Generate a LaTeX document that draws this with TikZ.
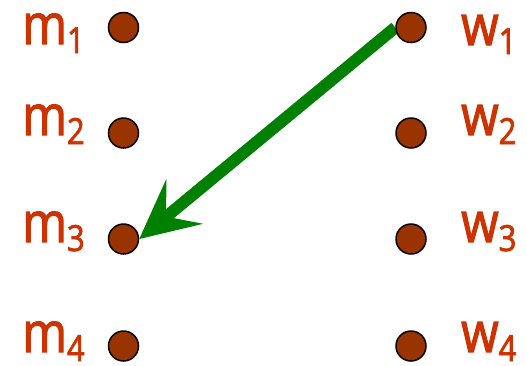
\documentclass[tikz,border=0pt]{standalone}
\usepackage{fontspec}
\newfontfamily\labfont[FakeStretch=0.86,FakeBold=2]{Open Sans}
\usetikzlibrary{arrows.meta,backgrounds}
\definecolor{dotbrown}{HTML}{993300}
\definecolor{labred}{HTML}{CC3300}
\definecolor{arrgreen}{HTML}{008000}
\newcommand{\mylbl}[2]{#1\raisebox{-9pt}{\fontsize{36}{36}\selectfont #2}}
\begin{document}
\begin{tikzpicture}[x=1pt,y=-1pt,
  dotnode/.style={circle,fill=dotbrown,draw=black,line width=1.5pt,minimum size=30pt,inner sep=0pt},
  lab/.style={text=labred,font=\labfont\fontsize{56}{56}\selectfont,inner sep=0pt,anchor=base west},
  matcharrow/.style={draw=arrgreen,line width=12pt,-{Stealth[length=59pt,width=58pt,inset=24pt,line width=0pt]}}]
\useasboundingbox (0,0) rectangle (527,365);
\node[dotnode] (m1) at (123.5,27.5) {};
\node[dotnode] (m2) at (123.5,133) {};
\node[dotnode] (m3) at (123.5,239) {};
\node[dotnode] (m4) at (123.5,346) {};
\node[dotnode] (w1) at (411,27.5) {};
\node[dotnode] (w2) at (411,133) {};
\node[dotnode] (w3) at (411,239) {};
\node[dotnode] (w4) at (411,346) {};
\node[lab] (lm1) at (22,44) {\mylbl{m}{1}};
\node[lab] (lm2) at (22,135) {\mylbl{m}{2}};
\node[lab] (lm3) at (22,242) {\mylbl{m}{3}};
\node[lab] (lm4) at (22,352) {\mylbl{m}{4}};
\node[lab] (lw1) at (461,45) {\mylbl{w}{1}};
\node[lab] (lw2) at (461,135) {\mylbl{w}{2}};
\node[lab] (lw3) at (461,242) {\mylbl{w}{3}};
\node[lab] (lw4) at (461,352) {\mylbl{w}{4}};
\begin{scope}[on background layer]
\draw[matcharrow] (w1.west) -- (m3.east);
\end{scope}
\end{tikzpicture}
\end{document}
